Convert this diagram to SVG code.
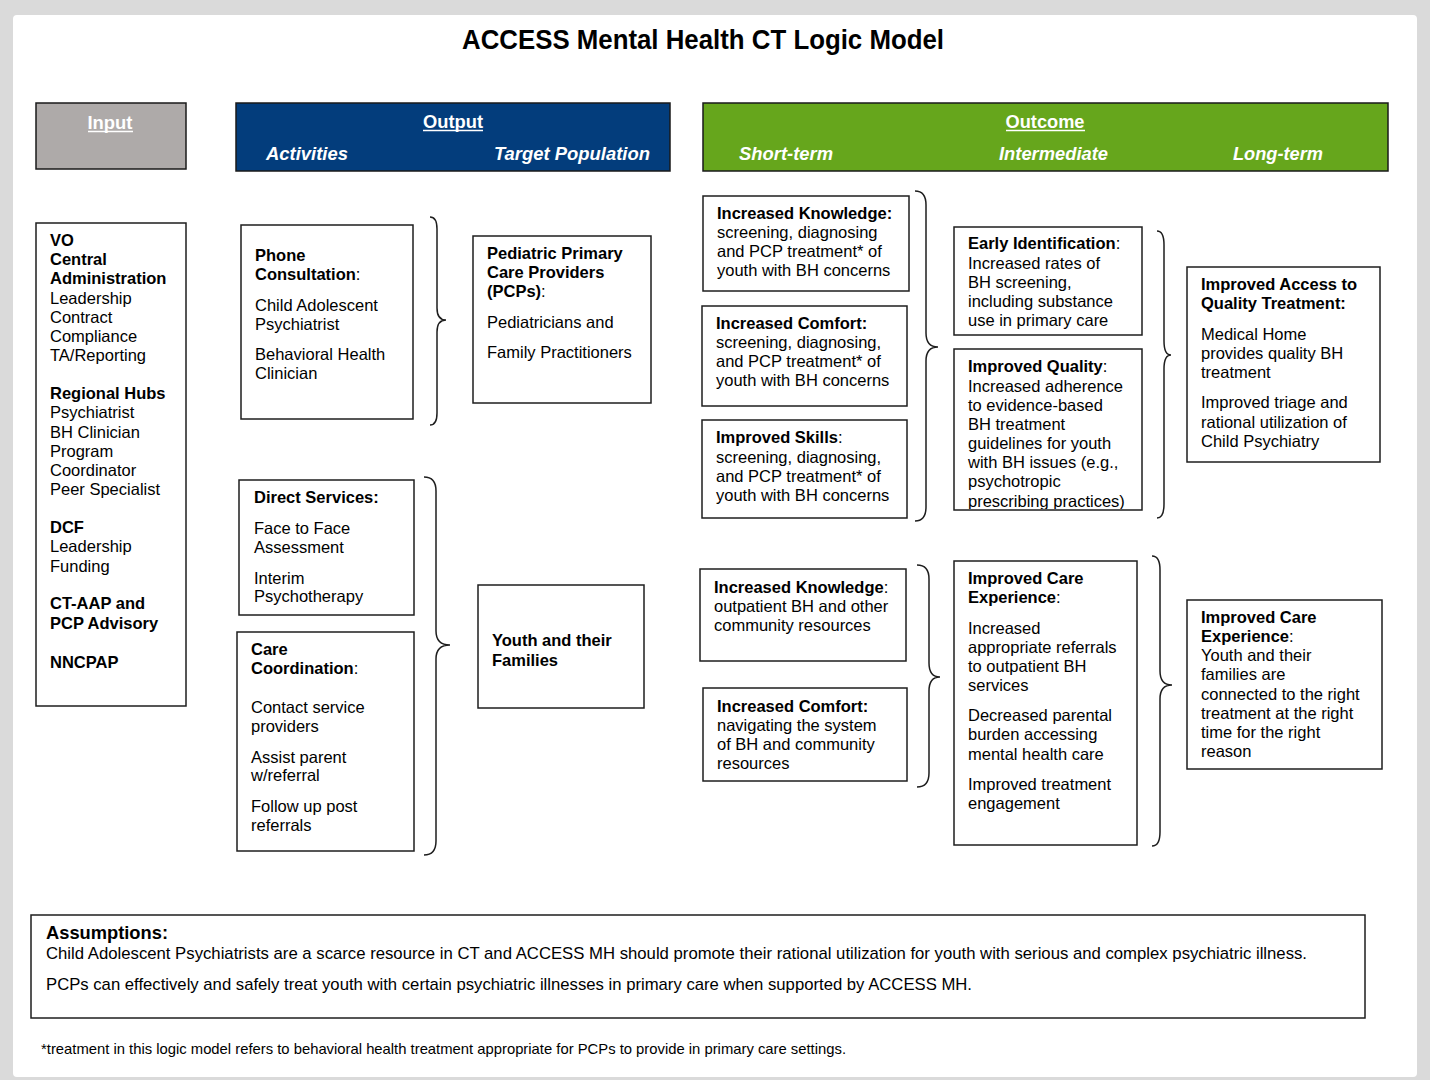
<svg xmlns="http://www.w3.org/2000/svg" width="1430" height="1080" viewBox="0 0 1430 1080">
  <style>
    .box { fill: #ffffff; stroke: #1e1e1e; stroke-width: 1.5; }
    .hdr { stroke: #1a1a1a; stroke-width: 1.5; }
    .brace { fill: none; stroke: #1e1e1e; stroke-width: 1.5; }
    .t { font-family: "Liberation Sans", Arial, sans-serif; font-size: 16.5px; fill: #000; }
    .b { font-weight: bold; }
    .n { font-family: "Liberation Sans Narrow", "Liberation Sans", Arial, sans-serif; fill: #000; }
    .h { font-family: "Liberation Sans Narrow", "Liberation Sans", Arial, sans-serif; font-weight: bold; font-size: 19px; fill: #fff; }
    .hi { font-style: italic; }
    .ul { stroke: #fff; stroke-width: 1.4; }
  </style>
  <defs>
    <clipPath id="clipQuality">
      <rect x="954" y="349" width="188" height="160"/>
    </clipPath>
  </defs>

  <!-- page -->
  <rect x="0" y="0" width="1430" height="1080" fill="#dadada"/>
  <rect x="13" y="15" width="1404" height="1062" rx="4" fill="#ffffff"/>

  <!-- title -->
  <text class="n b" x="703" y="49" font-size="27" text-anchor="middle" textLength="482" lengthAdjust="spacingAndGlyphs">ACCESS Mental Health CT Logic Model</text>

  <!-- column headers -->
  <g id="header-input">
    <rect class="hdr" x="36" y="103" width="150" height="66" fill="#aeaaa9"/>
    <text class="h" x="110" y="129" text-anchor="middle" textLength="45" lengthAdjust="spacingAndGlyphs">Input</text>
    <line class="ul" x1="88" y1="131.5" x2="133" y2="131.5"/>
  </g>
  <g id="header-output">
    <rect class="hdr" x="236" y="103" width="434" height="68" fill="#033d7c"/>
    <text class="h" x="453" y="128" text-anchor="middle" textLength="60" lengthAdjust="spacingAndGlyphs">Output</text>
    <line class="ul" x1="423" y1="130.5" x2="483" y2="130.5"/>
    <text class="h hi" x="266" y="160" textLength="82" lengthAdjust="spacingAndGlyphs">Activities</text>
    <text class="h hi" x="494" y="160" textLength="156" lengthAdjust="spacingAndGlyphs">Target Population</text>
  </g>
  <g id="header-outcome">
    <rect class="hdr" x="703" y="103" width="685" height="68" fill="#66a61c"/>
    <text class="h" x="1045" y="128" text-anchor="middle" textLength="79" lengthAdjust="spacingAndGlyphs">Outcome</text>
    <line class="ul" x1="1006" y1="130.5" x2="1085" y2="130.5"/>
    <text class="h hi" x="739" y="160" textLength="94" lengthAdjust="spacingAndGlyphs">Short-term</text>
    <text class="h hi" x="999" y="160" textLength="109" lengthAdjust="spacingAndGlyphs">Intermediate</text>
    <text class="h hi" x="1233" y="160" textLength="90" lengthAdjust="spacingAndGlyphs">Long-term</text>
  </g>

  <!-- inputs -->
  <g id="inputs">
    <rect class="box" x="36" y="223" width="150" height="483"/>
    <text class="t">
      <tspan class="b" x="50" y="246">VO</tspan>
      <tspan class="b" x="50" y="265">Central</tspan>
      <tspan class="b" x="50" y="284">Administration</tspan>
      <tspan x="50" y="304">Leadership</tspan>
      <tspan x="50" y="323">Contract</tspan>
      <tspan x="50" y="342">Compliance</tspan>
      <tspan x="50" y="361">TA/Reporting</tspan>
      <tspan class="b" x="50" y="399">Regional Hubs</tspan>
      <tspan x="50" y="418">Psychiatrist</tspan>
      <tspan x="50" y="438">BH Clinician</tspan>
      <tspan x="50" y="457">Program</tspan>
      <tspan x="50" y="476">Coordinator</tspan>
      <tspan x="50" y="495">Peer Specialist</tspan>
      <tspan class="b" x="50" y="533">DCF</tspan>
      <tspan x="50" y="552">Leadership</tspan>
      <tspan x="50" y="572">Funding</tspan>
      <tspan class="b" x="50" y="609">CT-AAP and</tspan>
      <tspan class="b" x="50" y="629">PCP Advisory</tspan>
      <tspan class="b" x="50" y="668">NNCPAP</tspan>
    </text>
  </g>

  <!-- activities -->
  <g id="phone-consultation">
    <rect class="box" x="241" y="225" width="172" height="194"/>
    <text class="t">
      <tspan class="b" x="255" y="261">Phone</tspan>
      <tspan x="255" y="280"><tspan class="b">Consultation</tspan>:</tspan>
      <tspan x="255" y="311">Child Adolescent</tspan>
      <tspan x="255" y="330">Psychiatrist</tspan>
      <tspan x="255" y="360">Behavioral Health</tspan>
      <tspan x="255" y="379">Clinician</tspan>
    </text>
  </g>
  <g id="direct-services">
    <rect class="box" x="239" y="480" width="175" height="135"/>
    <text class="t">
      <tspan class="b" x="254" y="503">Direct Services:</tspan>
      <tspan x="254" y="534">Face to Face</tspan>
      <tspan x="254" y="553">Assessment</tspan>
      <tspan x="254" y="584">Interim</tspan>
      <tspan x="254" y="602">Psychotherapy</tspan>
    </text>
  </g>
  <g id="care-coordination">
    <rect class="box" x="237" y="632" width="177" height="219"/>
    <text class="t">
      <tspan class="b" x="251" y="655">Care</tspan>
      <tspan x="251" y="674"><tspan class="b">Coordination</tspan>:</tspan>
      <tspan x="251" y="713">Contact service</tspan>
      <tspan x="251" y="732">providers</tspan>
      <tspan x="251" y="763">Assist parent</tspan>
      <tspan x="251" y="781">w/referral</tspan>
      <tspan x="251" y="812">Follow up post</tspan>
      <tspan x="251" y="831">referrals</tspan>
    </text>
  </g>

  <!-- target population -->
  <g id="pcps">
    <rect class="box" x="473" y="236" width="178" height="167"/>
    <text class="t">
      <tspan class="b" x="487" y="259">Pediatric Primary</tspan>
      <tspan class="b" x="487" y="278">Care Providers</tspan>
      <tspan x="487" y="297"><tspan class="b">(PCPs)</tspan>:</tspan>
      <tspan x="487" y="328">Pediatricians and</tspan>
      <tspan x="487" y="358">Family Practitioners</tspan>
    </text>
  </g>
  <g id="youth-families">
    <rect class="box" x="478" y="585" width="166" height="123"/>
    <text class="t b">
      <tspan x="492" y="646">Youth and their</tspan>
      <tspan x="492" y="666">Families</tspan>
    </text>
  </g>

  <!-- short-term outcomes -->
  <g id="st-knowledge-treatment">
    <rect class="box" x="703" y="196" width="206" height="95"/>
    <text class="t">
      <tspan class="b" x="717" y="219">Increased Knowledge:</tspan>
      <tspan x="717" y="238">screening, diagnosing</tspan>
      <tspan x="717" y="257">and PCP treatment* of</tspan>
      <tspan x="717" y="276">youth with BH concerns</tspan>
    </text>
  </g>
  <g id="st-comfort-treatment">
    <rect class="box" x="702" y="306" width="205" height="100"/>
    <text class="t">
      <tspan class="b" x="716" y="329">Increased Comfort:</tspan>
      <tspan x="716" y="348">screening, diagnosing,</tspan>
      <tspan x="716" y="367">and PCP treatment* of</tspan>
      <tspan x="716" y="386">youth with BH concerns</tspan>
    </text>
  </g>
  <g id="st-skills">
    <rect class="box" x="702" y="420" width="205" height="98"/>
    <text class="t">
      <tspan x="716" y="443"><tspan class="b">Improved Skills</tspan>:</tspan>
      <tspan x="716" y="463">screening, diagnosing,</tspan>
      <tspan x="716" y="482">and PCP treatment* of</tspan>
      <tspan x="716" y="501">youth with BH concerns</tspan>
    </text>
  </g>
  <g id="st-knowledge-resources">
    <rect class="box" x="700" y="569" width="206" height="92"/>
    <text class="t">
      <tspan x="714" y="593"><tspan class="b">Increased Knowledge</tspan>:</tspan>
      <tspan x="714" y="612">outpatient BH and other</tspan>
      <tspan x="714" y="631">community resources</tspan>
    </text>
  </g>
  <g id="st-comfort-navigation">
    <rect class="box" x="703" y="688" width="204" height="93"/>
    <text class="t">
      <tspan class="b" x="717" y="712">Increased Comfort:</tspan>
      <tspan x="717" y="731">navigating the system</tspan>
      <tspan x="717" y="750">of BH and community</tspan>
      <tspan x="717" y="769">resources</tspan>
    </text>
  </g>

  <!-- intermediate outcomes -->
  <g id="im-early-identification">
    <rect class="box" x="954" y="227" width="188" height="108"/>
    <text class="t">
      <tspan x="968" y="249"><tspan class="b">Early Identification</tspan>:</tspan>
      <tspan x="968" y="269">Increased rates of</tspan>
      <tspan x="968" y="288">BH screening,</tspan>
      <tspan x="968" y="307">including substance</tspan>
      <tspan x="968" y="326">use in primary care</tspan>
    </text>
  </g>
  <g id="im-quality">
    <rect class="box" x="954" y="349" width="188" height="161"/>
    <text class="t" clip-path="url(#clipQuality)">
      <tspan x="968" y="372"><tspan class="b">Improved Quality</tspan>:</tspan>
      <tspan x="968" y="392">Increased adherence</tspan>
      <tspan x="968" y="411">to evidence-based</tspan>
      <tspan x="968" y="430">BH treatment</tspan>
      <tspan x="968" y="449">guidelines for youth</tspan>
      <tspan x="968" y="468">with BH issues (e.g.,</tspan>
      <tspan x="968" y="487">psychotropic</tspan>
      <tspan x="968" y="507">prescribing practices)</tspan>
    </text>
  </g>
  <g id="im-care-experience">
    <rect class="box" x="954" y="561" width="183" height="284"/>
    <text class="t">
      <tspan class="b" x="968" y="584">Improved Care</tspan>
      <tspan x="968" y="603"><tspan class="b">Experience</tspan>:</tspan>
      <tspan x="968" y="634">Increased</tspan>
      <tspan x="968" y="653">appropriate referrals</tspan>
      <tspan x="968" y="672">to outpatient BH</tspan>
      <tspan x="968" y="691">services</tspan>
      <tspan x="968" y="721">Decreased parental</tspan>
      <tspan x="968" y="740">burden accessing</tspan>
      <tspan x="968" y="760">mental health care</tspan>
      <tspan x="968" y="790">Improved treatment</tspan>
      <tspan x="968" y="809">engagement</tspan>
    </text>
  </g>

  <!-- long-term outcomes -->
  <g id="lt-access">
    <rect class="box" x="1187" y="267" width="193" height="195"/>
    <text class="t">
      <tspan class="b" x="1201" y="290">Improved Access to</tspan>
      <tspan class="b" x="1201" y="309">Quality Treatment:</tspan>
      <tspan x="1201" y="340">Medical Home</tspan>
      <tspan x="1201" y="359">provides quality BH</tspan>
      <tspan x="1201" y="378">treatment</tspan>
      <tspan x="1201" y="408">Improved triage and</tspan>
      <tspan x="1201" y="428">rational utilization of</tspan>
      <tspan x="1201" y="447">Child Psychiatry</tspan>
    </text>
  </g>
  <g id="lt-care-experience">
    <rect class="box" x="1187" y="600" width="195" height="169"/>
    <text class="t">
      <tspan class="b" x="1201" y="623">Improved Care</tspan>
      <tspan x="1201" y="642"><tspan class="b">Experience</tspan>:</tspan>
      <tspan x="1201" y="661">Youth and their</tspan>
      <tspan x="1201" y="680">families are</tspan>
      <tspan x="1201" y="700">connected to the right</tspan>
      <tspan x="1201" y="719">treatment at the right</tspan>
      <tspan x="1201" y="738">time for the right</tspan>
      <tspan x="1201" y="757">reason</tspan>
    </text>
  </g>

  <!-- connectors: braces grouping each column into the next -->
  <g id="connectors">
    <path class="brace" d="M430,217 Q437,217 437,229 L437,308 Q437,320 446,320 Q437,320 437,332 L437,413 Q437,425 430,425"/>
    <path class="brace" d="M424,477 Q436,477 436,491 L436,631 Q436,645 450,645 Q436,645 436,659 L436,841 Q436,855 424,855"/>
    <path class="brace" d="M915,191 Q926,191 926,205 L926,333 Q926,347 938,347 Q926,347 926,361 L926,507 Q926,521 915,521"/>
    <path class="brace" d="M917,565 Q929,565 929,579 L929,663 Q929,677 940,677 Q929,677 929,691 L929,773 Q929,787 917,787"/>
    <path class="brace" d="M1157,231 Q1164,231 1164,245 L1164,341 Q1164,355 1171,355 Q1164,355 1164,369 L1164,504 Q1164,518 1157,518"/>
    <path class="brace" d="M1152,556 Q1160,556 1160,570 L1160,671 Q1160,685 1172,685 Q1160,685 1160,699 L1160,832 Q1160,846 1152,846"/>
  </g>

  <!-- assumptions -->
  <g id="assumptions">
    <rect class="box" x="31" y="915" width="1334" height="103"/>
    <text class="n b" x="46" y="939" font-size="18" textLength="122" lengthAdjust="spacingAndGlyphs">Assumptions:</text>
    <text class="n" x="46" y="959" font-size="17" textLength="1261" lengthAdjust="spacingAndGlyphs">Child Adolescent Psychiatrists are a scarce resource in CT and ACCESS MH should promote their rational utilization for youth with serious and complex psychiatric illness.</text>
    <text class="n" x="46" y="990" font-size="17" textLength="926" lengthAdjust="spacingAndGlyphs">PCPs can effectively and safely treat youth with certain psychiatric illnesses in primary care when supported by ACCESS MH.</text>
  </g>

  <!-- footnote -->
  <text class="n" x="41" y="1054" font-size="14.5" textLength="805" lengthAdjust="spacingAndGlyphs">*treatment in this logic model refers to behavioral health treatment appropriate for PCPs to provide in primary care settings.</text>
</svg>
